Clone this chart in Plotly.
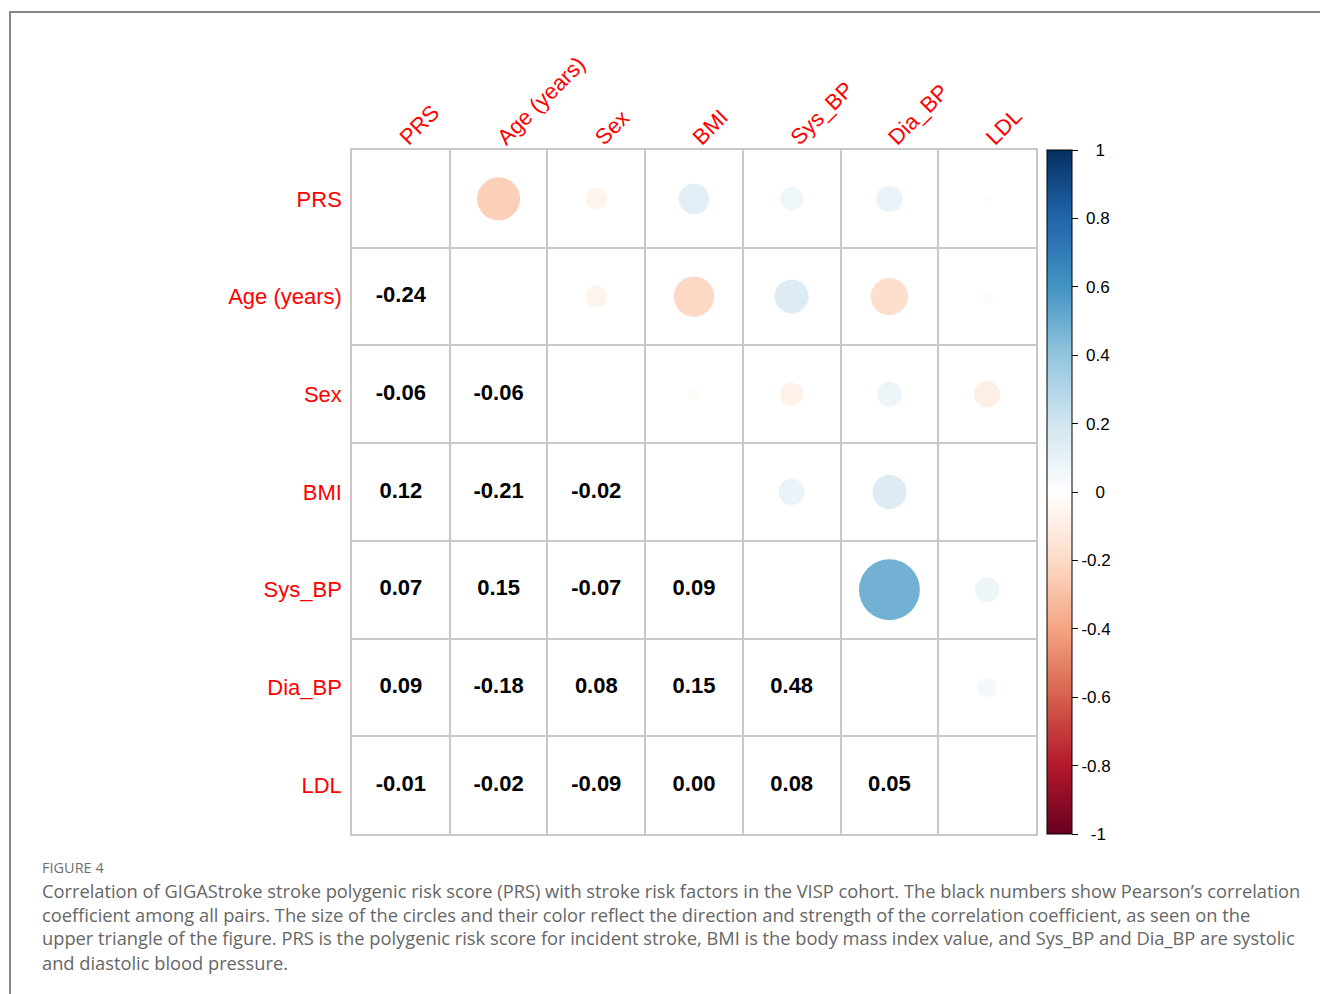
import numpy as np
import plotly.graph_objects as go

# Variables in the correlation matrix
variables = ["PRS", "Age (years)", "Sex", "BMI", "Sys_BP", "Dia_BP", "LDL"]

# Pairwise Pearson correlations (lower triangle, row-wise)
pairs = [
    ("Age (years)", "PRS", -0.24),
    ("Sex", "PRS", -0.06), ("Sex", "Age (years)", -0.06),
    ("BMI", "PRS", 0.12), ("BMI", "Age (years)", -0.21), ("BMI", "Sex", -0.02),
    ("Sys_BP", "PRS", 0.07), ("Sys_BP", "Age (years)", 0.15), ("Sys_BP", "Sex", -0.07),
    ("Sys_BP", "BMI", 0.09),
    ("Dia_BP", "PRS", 0.09), ("Dia_BP", "Age (years)", -0.18), ("Dia_BP", "Sex", 0.08),
    ("Dia_BP", "BMI", 0.15), ("Dia_BP", "Sys_BP", 0.48),
    ("LDL", "PRS", -0.01), ("LDL", "Age (years)", -0.02), ("LDL", "Sex", -0.09),
    ("LDL", "BMI", 0.00), ("LDL", "Sys_BP", 0.08), ("LDL", "Dia_BP", 0.05),
]

colorbar_ticks = [1, 0.8, 0.6, 0.4, 0.2, 0, -0.2, -0.4, -0.6, -0.8, -1]

caption_title = "FIGURE 4"
caption_lines = [
    "Correlation of GIGAStroke stroke polygenic risk score (PRS) with stroke risk factors in the VISP cohort. The black numbers show Pearson\u2019s correlation",
    "coefficient among all pairs. The size of the circles and their color reflect the direction and strength of the correlation coefficient, as seen on the",
    "upper triangle of the figure. PRS is the polygenic risk score for incident stroke, BMI is the body mass index value, and Sys_BP and Dia_BP are systolic",
    "and diastolic blood pressure.",
]

# RdBu diverging palette (-1 .. 1)
rdbu = ["#67001F", "#B2182B", "#D6604D", "#F4A582", "#FDDBC7", "#FFFFFF",
        "#D1E5F0", "#92C5DE", "#4393C3", "#2166AC", "#053061"]
colorscale = [[i / (len(rdbu) - 1), c] for i, c in enumerate(rdbu)]

# Layout geometry (pixels)
W, H = 1320, 994
L, R, T, B = 352, 284, 150, 160
plot_px = W - L - R
n = len(variables)
cell_px = plot_px / n

idx = {v: i for i, v in enumerate(variables)}

# Upper triangle: circles (area proportional to |r|)
cx, cy, cr, csize = [], [], [], []
for row, col, r in pairs:
    cx.append(idx[row])
    cy.append(idx[col])
    cr.append(r)
    csize.append(0.9 * np.sqrt(abs(r)) * cell_px)

# Lower triangle: numbers
tx, ty, tt = [], [], []
for row, col, r in pairs:
    tx.append(idx[col])
    ty.append(idx[row])
    tt.append(f"{r:.2f}")


# Colorbar labels are centred in a column: pad them with no-break spaces
def centred_label(v, font_px=17, column_px=34):
    s = f"{v:g}"
    widths = {"-": 0.333, ".": 0.278}
    w = sum(widths.get(ch, 0.556) for ch in s) * font_px
    pad = int(round((column_px - w) / 2 / (0.278 * font_px)))
    return "\u00a0" * max(pad, 0) + s


fig = go.Figure()

fig.add_trace(go.Scatter(
    x=cx, y=cy, mode="markers",
    marker=dict(
        size=csize, sizemode="diameter", color=cr, colorscale=colorscale,
        cmin=-1, cmax=1, line=dict(width=0), opacity=1,
        showscale=True,
        colorbar=dict(
            thickness=25, thicknessmode="pixels",
            len=1, lenmode="fraction", y=0.5, yanchor="middle",
            x=(1047 - L) / plot_px, xanchor="left", xpad=0, ypad=0,
            outlinecolor="black", outlinewidth=1,
            tickvals=colorbar_ticks,
            ticktext=[centred_label(v) for v in colorbar_ticks],
            ticks="outside", ticklen=6, tickcolor="black",
            tickfont=dict(family="Liberation Sans, Arial", size=17, color="black"),
        ),
    ),
    hoverinfo="skip", showlegend=False,
))

fig.add_trace(go.Scatter(
    x=tx, y=ty, mode="text", text=tt, textposition="middle center",
    textfont=dict(family="Liberation Sans, Arial", size=22, color="black", weight="bold"),
    hoverinfo="skip", showlegend=False,
))

axis_common = dict(
    range=[-0.5, n - 0.5],
    tickvals=list(range(n)), ticktext=variables,
    showgrid=False, zeroline=False,
    minor=dict(tick0=0.5, dtick=1, showgrid=True, gridcolor="#c8c8c8", gridwidth=1.5, ticks=""),
    showline=True, mirror=True, linecolor="#c8c8c8", linewidth=1.5,
    tickfont=dict(family="Liberation Sans, Arial", size=22, color="#ff0000"),
    fixedrange=True,
)

fig.update_xaxes(**axis_common, side="top", tickangle=-45, ticklabelstandoff=-10)
fig.update_yaxes(**axis_common, autorange=False, ticklabelstandoff=4)
fig.update_yaxes(range=[n - 0.5, -0.5])

# Figure frame
fig.add_shape(type="rect", xref="paper", yref="paper",
              x0=(10 - L) / plot_px, x1=(W + 20 - L) / plot_px,
              y0=-(H + 20 - (H - B)) / plot_px, y1=(H - B - 12) / plot_px,
              line=dict(color="#888888", width=2), layer="below")

# Caption
fig.add_annotation(text=caption_title, xref="paper", yref="paper",
                   x=(40 - L) / plot_px, y=(H - B - 867) / plot_px,
                   xanchor="left", yanchor="middle", showarrow=False,
                   font=dict(family="Open Sans", size=14.5, color="#707070"))
for k, line in enumerate(caption_lines):
    fig.add_annotation(text=line, xref="paper", yref="paper",
                       x=(40 - L) / plot_px, y=(H - B - (890 + 24 * k)) / plot_px,
                       xanchor="left", yanchor="middle", showarrow=False,
                       font=dict(family="Open Sans", size=18.3, color="#666666"))

fig.update_layout(
    width=W, height=H,
    margin=dict(l=L, r=R, t=T, b=B, autoexpand=False),
    paper_bgcolor="white", plot_bgcolor="white",
)

fig.write_html("out.html")
